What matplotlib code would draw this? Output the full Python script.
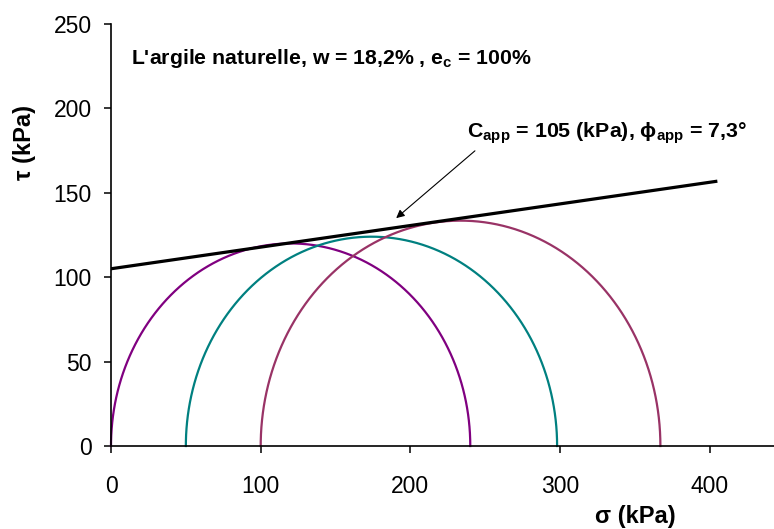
import matplotlib
matplotlib.use("Agg")
import matplotlib.pyplot as plt
import numpy as np

plt.rcParams["font.family"] = ["Liberation Sans", "DejaVu Sans"]
plt.rcParams["mathtext.default"] = "regular"

# Mohr circles: minor / major principal stresses (kPa)
sigma3 = [0, 50, 100]
sigma1 = [240, 298, 367]
circle_colors = ["#800080", "#008080", "#993366"]

# apparent failure envelope
c_app = 105
phi_app = 7.3
env_sigma = [0, 404]

x_ticks = [0, 100, 200, 300, 400]
y_ticks = [0, 50, 100, 150, 200, 250]

W, H = 774, 529
fig = plt.figure(figsize=(W / 100, H / 100), dpi=100)
ax = fig.add_axes([111 / W, (H - 446) / H, 1 - 111 / W, 422 / H])

theta = np.linspace(0, np.pi, 300)
for s3, s1, col in zip(sigma3, sigma1, circle_colors):
    c = (s1 + s3) / 2
    r = (s1 - s3) / 2
    ax.plot(c + r * np.cos(theta), r * np.sin(theta), color=col, lw=1.6,
            clip_on=False)

env_x = np.array(env_sigma)
env_y = c_app + env_x * np.tan(np.radians(phi_app))
ax.plot(env_x, env_y, color="black", lw=2.3)

ax.set_xlim(0, (W - 111) / 1.497)
ax.set_ylim(0, 250)
ax.set_xticks(x_ticks)
ax.set_yticks(y_ticks)
ax.tick_params(labelsize=16.5, width=1.1, length=5, direction="out")
ax.tick_params(axis="x", pad=16)
ax.tick_params(axis="y", pad=9)
for side in ["top", "right"]:
    ax.spines[side].set_visible(False)
for side in ["left", "bottom"]:
    ax.spines[side].set_linewidth(1.2)

ax.text(13.5, 226.5, "L'argile naturelle, w = 18,2% , e$_c$ = 100%",
        fontsize=15.3, fontweight="bold", va="baseline")

ax.annotate("C$_{app}$ = 105 (kPa), \u03d5$_{app}$ = 7,3\u00b0",
            xy=(190.5, 135), xytext=(237.5, 182.8),
            fontsize=15.4, fontweight="bold", va="baseline", ha="left",
            arrowprops=dict(arrowstyle="-|>", color="black", lw=0.8,
                            mutation_scale=12, shrinkA=0, shrinkB=0,
                            relpos=(0.03, -0.2)))

fig.text(25 / W, 1 - 142 / H, "\u03c4 (kPa)", rotation=90, fontsize=17,
         fontweight="bold", ha="center", va="center")
fig.text(635 / W, 1 - 516 / H, "\u03c3 (kPa)", fontsize=17,
         fontweight="bold", ha="center", va="center")

fig.savefig("out.png", dpi=100)
